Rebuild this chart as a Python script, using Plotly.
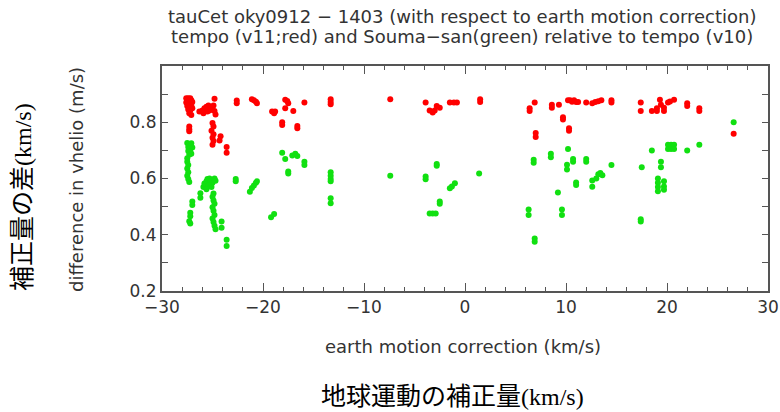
import plotly.graph_objects as go

red_x = [-27.6, -27.5, -27.4, -27.3, -27.2, -27.1, -27.6, -27.4, -27.2, -27.0, -27.5, -27.3, -27.1, -27.4, -27.2, -27.0, -27.3, -27.1, -27.3, -27.3, -27.3,
         -26.3, -26.0, -25.8, -25.6, -25.4, -25.2, -25.0, -24.8, -25.5, -25.9, -25.3, -24.7, -24.9, -24.8,
         -25.0, -24.9, -25.1, -24.9, -25.0, -24.9, -25.0, -24.2, -24.3, -23.6, -23.6,
         -22.6, -22.6, -21.1, -20.9, -20.7, -20.6, -19.1, -18.8, -18.9, -18.1, -18.1,
         -17.8, -17.6, -17.5, -17.8, -17.0, -16.6, -16.6, -15.9, -13.3, -13.3, -13.3, -7.4,
         -3.9, -3.5, -3.2, -3.0, -2.8, -2.5, -1.5, -1.1, -0.8,
         1.5, 1.5, 6.4, 6.4, 6.9, 7.0, 7.0, 8.6, 8.6, 9.3, 9.7, 9.7, 10.3, 10.3,
         10.2, 10.4, 10.6, 10.8, 11.0, 11.2, 12.0, 12.6, 12.9, 13.2, 13.5, 14.5, 14.5,
         17.4, 17.4, 18.5, 19.0, 19.0, 19.3, 19.4, 19.7, 19.7, 20.1, 20.3, 20.7,
         22.0, 22.0, 23.2, 23.2, 26.6]
red_y = [0.885, 0.878, 0.885, 0.880, 0.885, 0.878, 0.870, 0.866, 0.870, 0.872, 0.858, 0.855, 0.860, 0.845, 0.842, 0.850, 0.832, 0.826, 0.785, 0.775, 0.768,
         0.838, 0.842, 0.850, 0.855, 0.860, 0.852, 0.845, 0.840, 0.838, 0.832, 0.842, 0.828, 0.860, 0.884,
         0.797, 0.785, 0.770, 0.757, 0.745, 0.733, 0.720, 0.750, 0.735, 0.712, 0.692,
         0.877, 0.868, 0.882, 0.878, 0.873, 0.868, 0.838, 0.838, 0.832, 0.800, 0.790,
         0.880, 0.876, 0.868, 0.850, 0.840, 0.787, 0.779, 0.870, 0.882, 0.872, 0.864, 0.882,
         0.870, 0.842, 0.835, 0.842, 0.858, 0.852, 0.870, 0.870, 0.870,
         0.882, 0.872, 0.850, 0.840, 0.870, 0.762, 0.748, 0.862, 0.852, 0.862, 0.818, 0.810, 0.779, 0.770,
         0.878, 0.878, 0.873, 0.878, 0.872, 0.872, 0.870, 0.868, 0.872, 0.875, 0.878, 0.878, 0.870,
         0.870, 0.840, 0.840, 0.850, 0.840, 0.880, 0.862, 0.852, 0.840, 0.870, 0.874, 0.880,
         0.868, 0.858, 0.850, 0.840, 0.759]

green_x = [-27.5, -27.3, -27.1, -27.4, -27.2, -27.0, -27.4, -27.2, -27.3, -27.1,
           -27.5, -27.5, -27.4, -27.5, -27.4, -27.5, -27.4, -27.3,
           -27.0, -27.0, -27.2, -27.2, -27.3, -27.2, -26.2, -26.2,
           -25.9, -25.8, -25.6, -25.5, -25.3, -25.2, -25.0, -24.8, -24.7, -25.4, -25.6, -25.1,
           -24.9, -25.0, -24.9, -24.8, -25.0, -24.9, -24.8, -25.0, -24.9, -24.8, -24.7,
           -24.1, -24.1, -23.6, -23.6, -22.7, -22.7,
           -21.3, -21.1, -20.9, -20.7, -20.6, -19.2, -18.9,
           -18.1, -17.8, -17.5, -17.5, -17.1, -16.8, -16.6, -15.9, -15.9,
           -13.3, -13.3, -13.3, -13.3, -13.3, -13.3, -7.4,
           -3.9, -3.9, -3.5, -3.2, -2.9, -2.8, -2.8, -2.5, -2.5, -1.5, -1.3, -1.0,
           1.4, 6.3, 6.3, 6.8, 6.8, 6.9, 6.9, 8.5, 8.5, 9.2, 9.6, 9.6,
           10.2, 10.1, 10.1, 10.7, 10.7, 11.0, 11.0, 12.0, 12.0, 12.6, 12.6,
           13.0, 13.2, 13.4, 13.6, 14.5, 17.4, 17.4, 17.5, 18.5,
           19.1, 19.1, 19.1, 19.1, 19.4, 19.4, 19.7, 19.7, 19.7,
           20.1, 20.1, 20.4, 20.4, 20.7, 20.7, 22.0, 23.2, 26.6]
green_y = [0.726, 0.722, 0.725, 0.712, 0.708, 0.710, 0.698, 0.695, 0.684, 0.688,
           0.672, 0.660, 0.648, 0.636, 0.622, 0.610, 0.598, 0.588,
           0.518, 0.506, 0.478, 0.466, 0.448, 0.440, 0.548, 0.532,
           0.570, 0.582, 0.590, 0.598, 0.600, 0.590, 0.585, 0.600, 0.592, 0.575, 0.562, 0.570,
           0.547, 0.535, 0.522, 0.510, 0.498, 0.485, 0.470, 0.458, 0.445, 0.432, 0.420,
           0.447, 0.425, 0.382, 0.360, 0.598, 0.590,
           0.553, 0.566, 0.575, 0.585, 0.590, 0.462, 0.474,
           0.692, 0.669, 0.625, 0.618, 0.682, 0.688, 0.680, 0.660, 0.648,
           0.622, 0.610, 0.598, 0.590, 0.530, 0.512, 0.610,
           0.607, 0.597, 0.476, 0.476, 0.476, 0.645, 0.652, 0.518, 0.510, 0.565, 0.572, 0.583,
           0.618, 0.490, 0.470, 0.667, 0.656, 0.387, 0.375, 0.688, 0.676, 0.550, 0.490, 0.470,
           0.705, 0.649, 0.632, 0.669, 0.660, 0.586, 0.577, 0.669, 0.660, 0.593, 0.571,
           0.600, 0.615, 0.620, 0.612, 0.648, 0.455, 0.447, 0.640, 0.700,
           0.600, 0.585, 0.570, 0.555, 0.660, 0.640, 0.590, 0.572, 0.560,
           0.720, 0.705, 0.720, 0.705, 0.720, 0.705, 0.700, 0.720, 0.800]

y_tickvals = [0.2, 0.3, 0.4, 0.5, 0.6, 0.7, 0.8, 0.9]
y_ticktext = ["0.2", "", "0.4", "", "0.6", "", "0.8", ""]
x_tickvals = [-30, -20, -10, 0, 10, 20, 30]
x_ticktext = ["\u221230", "\u221220", "\u221210", "0", "10", "20", "30"]

title1 = "tauCet oky0912 \u2212 1403 (with respect to earth motion correction)"
title2 = "tempo (v11;red) and Souma\u2212san(green) relative to tempo (v10)"
xlabel = "earth motion correction (km/s)"
ylabel = "difference in vhelio (m/s)"
jp_xlabel = "地球運動の補正量"
jp_ylabel = "補正量の差"
unit_jp = "(km/s)"

EN = "DejaVu Sans"
fig = go.Figure()
fig.add_trace(go.Scatter(x=red_x, y=red_y, mode="markers",
                         marker=dict(color="#ff0000", size=6, line=dict(width=0)),
                         showlegend=False))
fig.add_trace(go.Scatter(x=green_x, y=green_y, mode="markers",
                         marker=dict(color="#11e011", size=6, line=dict(width=0)),
                         showlegend=False))

axcol = "#555555"
fig.update_xaxes(range=[-30, 30], showgrid=False, zeroline=False, automargin=False,
                 showline=True, linecolor=axcol, linewidth=2, mirror="ticks",
                 ticks="inside", ticklen=8, tickwidth=1.2, tickcolor=axcol,
                 tickvals=x_tickvals, ticktext=x_ticktext,
                 tickfont=dict(family=EN, size=17, color="#333333"),
                 minor=dict(ticks="inside", dtick=2, ticklen=4, tickwidth=1.2, tickcolor=axcol))
fig.update_yaxes(range=[0.2, 1.0], showgrid=False, zeroline=False, automargin=False,
                 showline=True, linecolor=axcol, linewidth=2, mirror="ticks",
                 ticks="inside", ticklen=6, tickwidth=1.2, tickcolor=axcol,
                 tickvals=y_tickvals, ticktext=y_ticktext,
                 tickfont=dict(family=EN, size=17, color="#333333"))

unit_span = '<span style="font-family:Liberation Serif;font-size:24px">' + unit_jp + '</span>'
annots = [
    dict(text=title1, x=(462 - 162) / 606, y=(291 - 17) / 225, font=dict(size=18)),
    dict(text=title2, x=(462 - 162) / 606, y=(291 - 36) / 225, font=dict(size=18)),
    dict(text=xlabel, x=(463 - 162) / 606, y=(291 - 346) / 225, font=dict(size=18)),
    dict(text=ylabel, x=(76 - 162) / 606, y=(291 - 180) / 225, font=dict(size=18), textangle=-90),
    dict(text=jp_xlabel + unit_span,
         x=(452 - 162) / 606, y=(291 - 394) / 225,
         font=dict(size=25, family="Noto Sans CJK JP", color="#000000")),
    dict(text=jp_ylabel + unit_span,
         x=(20 - 162) / 606, y=(291 - 197) / 225, textangle=-90,
         font=dict(size=25, family="Noto Sans CJK JP", color="#000000")),
]
for a in annots:
    f = dict(family=EN, color="#333333")
    f.update(a.get("font", {}))
    a["font"] = f
    fig.add_annotation(xref="paper", yref="paper", showarrow=False,
                       xanchor="center", yanchor="middle", **a)

fig.update_layout(width=780, height=412, paper_bgcolor="white", plot_bgcolor="white",
                  margin=dict(l=162, r=12, t=66, b=121, autoexpand=False))

post = """
document.documentElement.style.margin='0';
document.body.style.margin='0';
document.body.style.overflow='hidden';
"""
fig.write_html("out.html", config={"displayModeBar": False}, post_script=post)
